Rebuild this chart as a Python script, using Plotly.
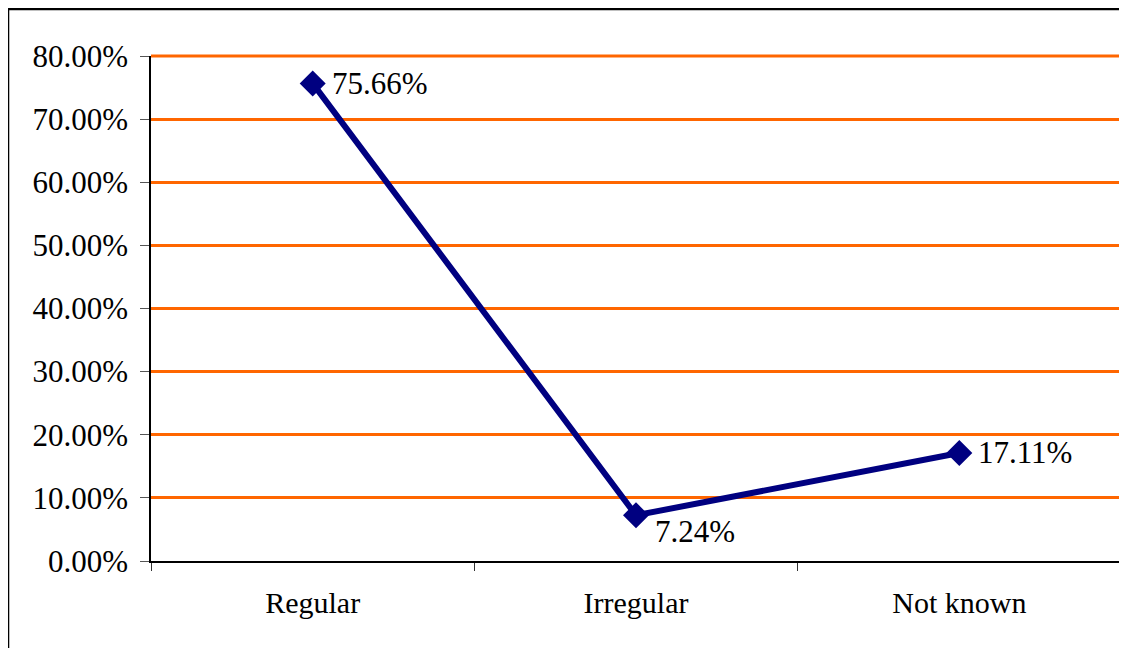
import plotly.graph_objects as go

categories = ["Regular", "Irregular", "Not known"]
values = [75.66, 7.24, 17.11]
labels = ["75.66%", "7.24%", "17.11%"]
label_yshift = [0, -16, 0]
y_ticks = [0, 10, 20, 30, 40, 50, 60, 70, 80]
y_tick_text = ["0.00%", "10.00%", "20.00%", "30.00%", "40.00%", "50.00%", "60.00%", "70.00%", "80.00%"]

font_family = "Liberation Serif, Times New Roman, serif"

fig = go.Figure()
fig.add_trace(go.Scatter(
    x=categories, y=values,
    mode="lines+markers",
    line=dict(color="#000080", width=6),
    marker=dict(symbol="diamond", size=20, color="#000080"),
    cliponaxis=False,
    showlegend=False,
))

for c, v, t, ys in zip(categories, values, labels, label_yshift):
    fig.add_annotation(
        x=c, y=v, text=t, showarrow=False,
        xanchor="left", yanchor="middle",
        xshift=17, yshift=ys,
        font=dict(family=font_family, size=31, color="black"),
    )

fig.update_layout(
    width=1113, height=640,
    margin=dict(l=143, r=0, t=48, b=87),
    paper_bgcolor="white", plot_bgcolor="white",
    font=dict(family=font_family, size=30, color="black"),
    xaxis=dict(
        type="category",
        tickson="boundaries",
        ticks="outside", ticklen=8, tickcolor="#333333",
        showline=True, linecolor="black", linewidth=1.5,
        showgrid=False, zeroline=False,
        range=[-0.5, 2.5],
        tickfont=dict(family=font_family, size=30),
        ticklabelstandoff=14,
    ),
    yaxis=dict(
        range=[0, 80],
        tickvals=y_ticks, ticktext=y_tick_text,
        ticks="outside", ticklen=9, tickcolor="#555555",
        showline=True, linecolor="black", linewidth=1.5,
        showgrid=True, gridcolor="#FF6600", gridwidth=3,
        zeroline=False,
        tickfont=dict(family=font_family, size=31),
        ticklabelstandoff=6,
    ),
    shapes=[
        dict(
            type="line", xref="paper", yref="paper",
            x0=0, x1=1, y0=1, y1=1,
            line=dict(color="#FF6600", width=3), layer="below",
        ),
        dict(
            type="line", xref="paper", yref="paper",
            x0=-0.1474, x1=-0.1474, y0=-0.3, y1=1.093,
            line=dict(color="black", width=2.5), layer="above",
        ),
        dict(
            type="line", xref="paper", yref="paper",
            x0=-0.1474, x1=1.2, y0=1.093, y1=1.093,
            line=dict(color="black", width=2.5), layer="above",
        ),
    ],
)

fig.write_html("out.html")
